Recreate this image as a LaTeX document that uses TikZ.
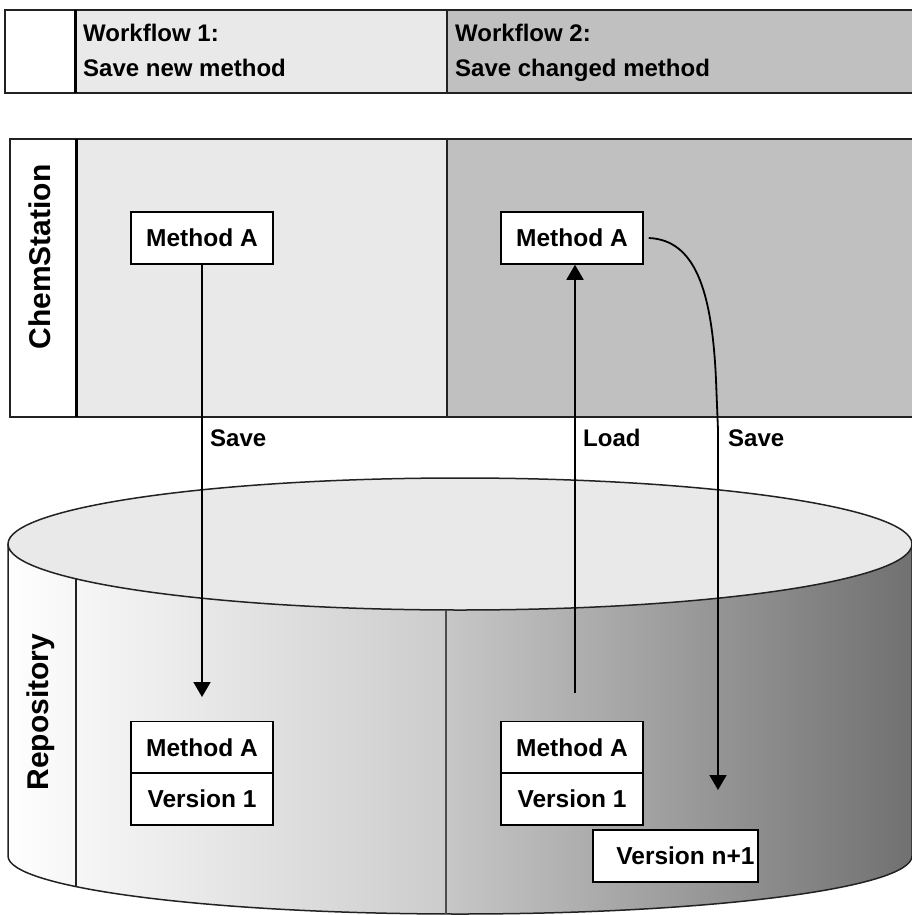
\documentclass[tikz,border=0pt]{standalone}
\usepackage{fontspec}
\setmainfont{Liberation Sans}
\usetikzlibrary{arrows.meta}
\definecolor{lightgrey}{HTML}{E9E9E9}
\definecolor{midgrey}{HTML}{C0C0C0}
\definecolor{edgegrey}{HTML}{222222}
\begin{document}
\begin{tikzpicture}[x=1pt,y=-1pt,
  frame/.style={draw=edgegrey, line width=1.5pt},
  mbox/.style={draw=black, line width=1.5pt, fill=white, minimum width=142pt, minimum height=52pt, inner sep=0pt, font=\fontsize{24.5}{28}\selectfont\bfseries},
  hdr/.style={anchor=base west, inner sep=0pt, font=\fontsize{24}{28}\selectfont\bfseries},
  lbl/.style={anchor=base west, inner sep=0pt, font=\fontsize{24}{28}\selectfont\bfseries},
  side/.style={rotate=90, anchor=base, inner sep=0pt, font=\fontsize{30}{34}\selectfont\bfseries},
  flow/.style={draw=black, line width=1.8pt, -{Triangle[width=17pt,length=15pt]}},
]
\useasboundingbox (0,0) rectangle (911,915);

% header
\fill[white] (5,10) rectangle (75,93);
\fill[lightgrey] (75,10) rectangle (447,93);
\fill[midgrey] (447,10) rectangle (925,93);
\draw[frame] (925,10) -- (5,10) -- (5,93) -- (925,93);
\draw[frame] (447,10) -- (447,93);
\draw[line width=3pt] (75,10) -- (75,93);
\node[hdr] (w1a) at (83,42) {Workflow 1:};
\node[hdr] (w1b) at (83,77) {Save new method};
\node[hdr] (w2a) at (455,42) {Workflow 2:};
\node[hdr] (w2b) at (455,77) {Save changed method};

% ChemStation band
\fill[white] (10,139) rectangle (76,417);
\fill[lightgrey] (76,139) rectangle (447,417);
\fill[midgrey] (447,139) rectangle (925,417);
\draw[frame] (925,139) -- (10,139) -- (10,417) -- (925,417);
\draw[frame] (447,139) -- (447,417);
\draw[line width=3pt] (76,139) -- (76,417);
\node[side] (chem) at (50,257) {ChemStation};

% cylinder body
\begin{scope}
\clip (8,544) -- (8,856) arc[start angle=180, end angle=0, x radius=452, y radius=58]
      -- (912,544) arc[start angle=0, end angle=180, x radius=452, y radius=66] -- cycle;
\shade[left color=white, right color=black!20] (0,480) rectangle (446,930);
\shade[left color=black!22, right color=black!56] (446,480) rectangle (915,930);
\end{scope}
\draw[frame] (8,544) -- (8,856) arc[start angle=180, end angle=0, x radius=452, y radius=58] -- (912,544);
\filldraw[frame, fill=lightgrey] (460,544) ellipse[x radius=452, y radius=66];
\draw[line width=1.3pt, draw=edgegrey] (76,578.8) -- (76,886.6);
\draw[line width=1.3pt, draw=black!70] (446,610) -- (446,914);
\node[side] (repo) at (48,712) {Repository};

% connectors
\node[mbox] (cmA) at (202,238) {Method A};
\node[mbox] (cmB) at (572,238) {Method A};
\coordinate (t1) at (202,697);
\coordinate (l0) at (575,693);
\coordinate (s1) at (718,790);
\draw[flow] (cmA) -- (t1);
\draw[flow] (l0) -- (l0 |- cmB.south);
\draw[flow] ([xshift=5pt]cmB.east) .. controls (695,240) and (712,290) .. (716,380) -- (718,430) -- (s1);

% repository boxes
\node[mbox] (rmA) at (202,747.5) {Method A};
\node[mbox] (rvA) at (202,799) {Version 1};
\node[mbox] (rmB) at (572,747.5) {Method A};
\node[mbox] (rvB) at (572,799) {Version 1};
\node[mbox, minimum width=165pt] (rvN) at (675.5,856) {\hspace*{20pt}Version n+1};

% labels
\node[lbl] (sv1) at (210,446) {Save};
\node[lbl] (ld) at (583,446) {Load};
\node[lbl] (sv2) at (728,446) {Save};
\end{tikzpicture}
\end{document}
